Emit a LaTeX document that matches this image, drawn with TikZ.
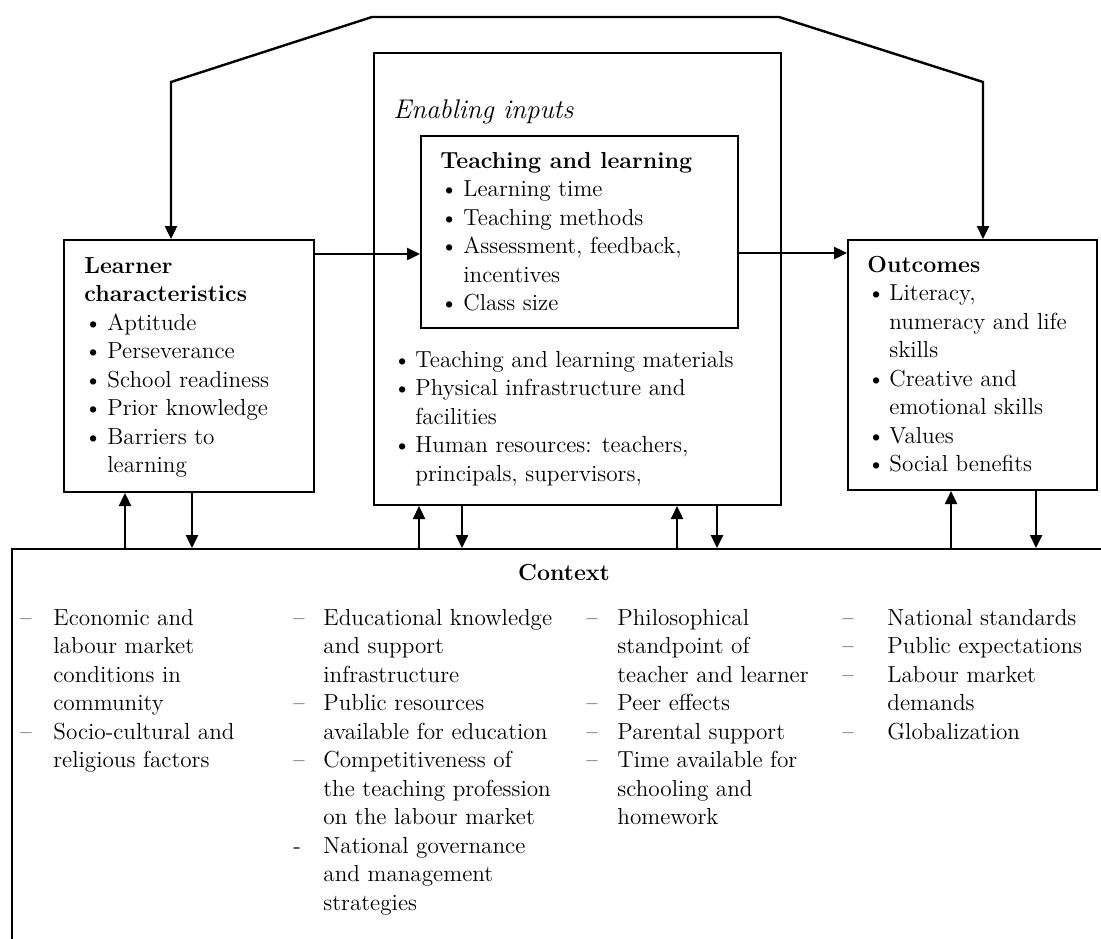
\documentclass[tikz,border=0pt]{standalone}
\usetikzlibrary{arrows.meta, positioning}
\begin{document}
\begin{tikzpicture}[x=0.5pt, y=-0.5pt,
    >={Triangle[length=6.5pt, width=6pt]},
    box/.style={draw, line width=1pt, inner sep=0pt, anchor=north west},
    txt/.style={inner sep=0pt, anchor=base west, font=\fontsize{11.6}{14.25}\selectfont},
    arr/.style={->, line width=1.2pt}
  ]
  \useasboundingbox (0,0) rectangle (1101,938);
  \clip (0,0) rectangle (1101,938);

  % Boxes (manual layout to match figure)
  \node[box, minimum width=125pt, minimum height=126pt] (learner) at (63,239) {};
  \node[box, minimum width=203.5pt, minimum height=226pt] (enabling) at (373,52) {};
  \node[box, minimum width=158.5pt, minimum height=96pt] (teaching) at (420,135) {};
  \node[box, minimum width=124.5pt, minimum height=125pt] (outcomes) at (847,239) {};
  \node[box, minimum width=600pt, minimum height=250pt] (context) at (11,548) {};

  % Texts
  \node[txt] (learnertxt) at (84,273) {\begin{tabular}[t]{@{}p{11.5pt}@{}l@{}}
    \multicolumn{2}{@{}l@{}}{\textbf{Learner}}\\
    \multicolumn{2}{@{}l@{}}{\textbf{characteristics}}\\
    \textbullet & Aptitude\\
    \textbullet & Perseverance\\
    \textbullet & School readiness\\
    \textbullet & Prior knowledge\\
    \textbullet & Barriers to\\
    & learning
  \end{tabular}};

  \node[txt, font=\fontsize{13.5}{14.25}\selectfont\itshape] (enablingtitle) at (393,118) {Enabling inputs};

  \node[txt] (teachingtxt) at (440,168) {\begin{tabular}[t]{@{}p{11.5pt}@{}l@{}}
    \multicolumn{2}{@{}l@{}}{\textbf{Teaching and learning}}\\
    \textbullet & Learning time\\
    \textbullet & Teaching methods\\
    \textbullet & Assessment, feedback,\\
    & incentives\\
    \textbullet & Class size
  \end{tabular}};

  \node[txt] (enablingtxt) at (393,367) {\begin{tabular}[t]{@{}p{11pt}@{}l@{}}
    \textbullet & Teaching and learning materials\\
    \textbullet & Physical infrastructure and\\
    & facilities\\
    \textbullet & Human resources: teachers,\\
    & principals, supervisors,
  \end{tabular}};

  \node[txt] (outcomestxt) at (867,272) {\begin{tabular}[t]{@{}p{11pt}@{}l@{}}
    \multicolumn{2}{@{}l@{}}{\textbf{Outcomes}}\\
    \textbullet & Literacy,\\
    & numeracy and life\\
    & skills\\
    \textbullet & Creative and\\
    & emotional skills\\
    \textbullet & Values\\
    \textbullet & Social benefits
  \end{tabular}};

  \node[txt, anchor=base] (contexttitle) at (564,580) {\textbf{Context}};

  \node[txt] (economy) at (20,625) {\begin{tabular}[t]{@{}p{16.5pt}@{}l@{}}
    \textendash & Economic and\\
    & labour market\\
    & conditions in\\
    & community\\
    \textendash & Socio-cultural and\\
    & religious factors
  \end{tabular}};

  \node[txt] (education) at (293,625) {\begin{tabular}[t]{@{}p{15pt}@{}l@{}}
    \textendash & Educational knowledge\\
    & and support\\
    & infrastructure\\
    \textendash & Public resources\\
    & available for education\\
    \textendash & Competitiveness of\\
    & the teaching profession\\
    & on the labour market\\
    - & National governance\\
    & and management\\
    & strategies
  \end{tabular}};

  \node[txt] (home) at (586,625) {\begin{tabular}[t]{@{}p{15.5pt}@{}l@{}}
    \textendash & Philosophical\\
    & standpoint of\\
    & teacher and learner\\
    \textendash & Peer effects\\
    \textendash & Parental support\\
    \textendash & Time available for\\
    & schooling and\\
    & homework
  \end{tabular}};

  \node[txt] (society) at (842,625) {\begin{tabular}[t]{@{}p{22.5pt}@{}l@{}}
    \textendash & National standards\\
    \textendash & Public expectations\\
    \textendash & Labour market\\
    & demands\\
    \textendash & Globalization
  \end{tabular}};

  % Arrows
  \draw[arr] (learner.east |- 0,254) -- (teaching.west |- 0,254);
  \draw[arr] (teaching.east |- 0,253) -- (outcomes.west |- 0,253);

  % feedback loop over the top
  \draw[arr, <->] (learner.north -| 171,0) -- (171,82) -- (372,17) -- (779,17)
    -- (983,82) -- (outcomes.north -| 983,0);

  % to and from the context
  \draw[arr] (context.north -| 125,0) -- (learner.south -| 125,0);
  \draw[arr] (learner.south -| 192,0) -- (context.north -| 192,0);
  \draw[arr] (context.north -| 419,0) -- (enabling.south -| 419,0);
  \draw[arr] (enabling.south -| 462,0) -- (context.north -| 462,0);
  \draw[arr] (context.north -| 677,0) -- (enabling.south -| 677,0);
  \draw[arr] (enabling.south -| 717,0) -- (context.north -| 717,0);
  \draw[arr] (context.north -| 951,0) -- (outcomes.south -| 951,0);
  \draw[arr] (outcomes.south -| 1036,0) -- (context.north -| 1036,0);
\end{tikzpicture}
\end{document}
